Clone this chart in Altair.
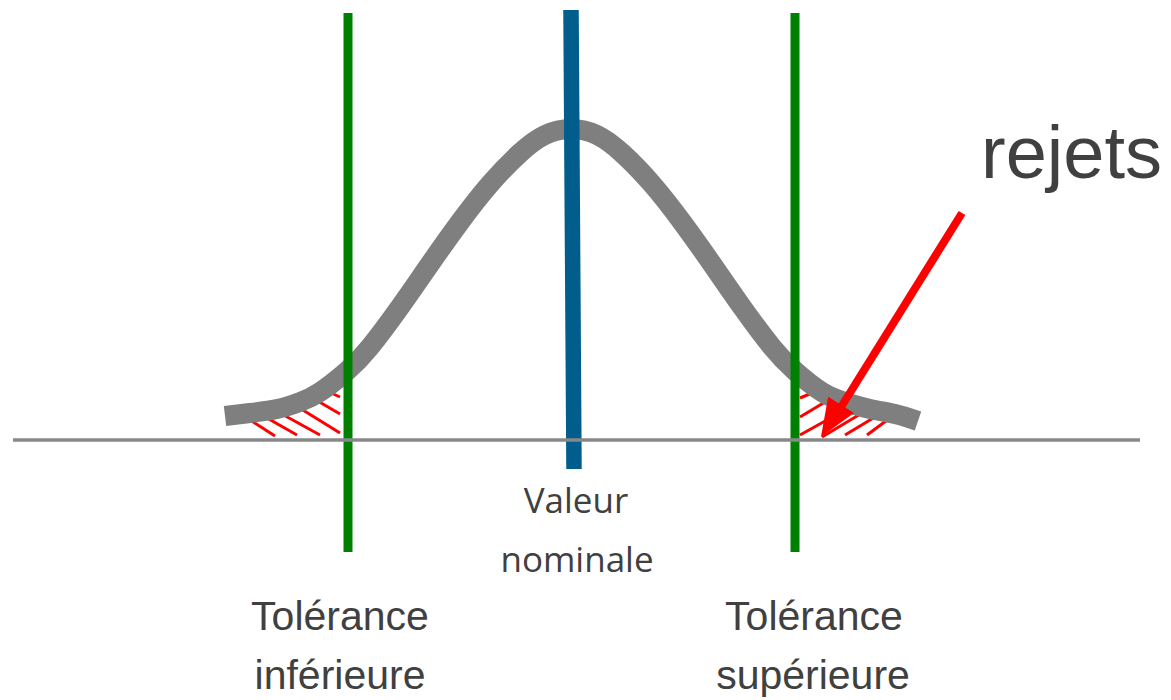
import altair as alt
import pandas as pd

W, H = 1171, 700

# Bell curve (picture units, y grows downward)
curve_x = [225, 250, 277, 300, 320, 347, 370, 400, 430, 460, 490, 520, 545, 571,
           597, 622, 652, 682, 712, 742, 772, 795, 822, 845, 870, 895, 918]
curve_y = [416, 413, 409, 402, 392, 371, 347, 307, 264, 222, 184, 153, 135, 129,
           135, 153, 184, 222, 264, 307, 347, 371, 392, 402, 409, 414, 421]

# Baseline
base_x = [13]
base_x2 = [1140]
base_y = [440]

# Tolerance limits (green)
tol_x = [348, 795]
tol_top = [13, 13]
tol_bottom = [552, 552]

# Nominal value (blue, slightly slanted)
nom_x = [571]
nom_x2 = [574]
nom_top = [10]
nom_bottom = [469]

# Red hatch segments (rejects)
hatch_x = [250, 267, 280, 298, 316, 329, 800, 800, 800, 822, 845, 867]
hatch_y = [420, 418, 413, 407, 400, 392, 398, 417, 435, 437, 435, 435]
hatch_x2 = [275, 297, 320, 340, 340, 340, 812, 825, 827, 862, 875, 890]
hatch_y2 = [436, 435, 435, 433, 414, 397, 393, 402, 420, 413, 417, 418]

# Arrow
arrow_x = [962]
arrow_y = [213]
arrow_x2 = [838]
arrow_y2 = [412]
head_x = [831]
head_y = [421]
head_angle = [212]

# Labels
label_text = ["Valeur", "nominale", "Tolérance", "inférieure", "Tolérance", "supérieure"]
label_x = [576, 577, 340, 340, 814, 813]
label_y = [513, 572, 630, 689, 630, 689]

rej_text = ["rejets"]
rej_x = [981]
rej_y = [178]

xs = alt.Scale(domain=[0, W], nice=False, zero=False)
ys = alt.Scale(domain=[0, H], nice=False, zero=False, reverse=True)


def X(f):
    return alt.X(f, type="quantitative", scale=xs, axis=None)


def Y(f):
    return alt.Y(f, type="quantitative", scale=ys, axis=None)


curve_df = pd.DataFrame({"x": curve_x, "y": curve_y})
base_df = pd.DataFrame({"x": base_x, "x2": base_x2, "y": base_y})
tol_df = pd.DataFrame({"x": tol_x, "y": tol_top, "y2": tol_bottom})
nom_df = pd.DataFrame({"x": nom_x, "x2": nom_x2, "y": nom_top, "y2": nom_bottom})
hatch_df = pd.DataFrame({"x": hatch_x, "y": hatch_y, "x2": hatch_x2, "y2": hatch_y2})
arrow_df = pd.DataFrame({"x": arrow_x, "y": arrow_y, "x2": arrow_x2, "y2": arrow_y2})
head_df = pd.DataFrame({"x": head_x, "y": head_y, "a": head_angle})
lab_df = pd.DataFrame({"t": label_text, "x": label_x, "y": label_y})
rej_df = pd.DataFrame({"t": rej_text, "x": rej_x, "y": rej_y})

hatch = alt.Chart(hatch_df).mark_rule(color="#FF0000", strokeWidth=3, strokeCap="butt").encode(
    x=X("x"), y=Y("y"), x2="x2", y2="y2")

curve = alt.Chart(curve_df).mark_line(
    color="#7F7F7F", strokeWidth=20, interpolate="natural", strokeCap="butt"
).encode(x=X("x"), y=Y("y"))

tol = alt.Chart(tol_df).mark_rule(color="#008000", strokeWidth=9, strokeCap="butt").encode(
    x=X("x"), y=Y("y"), y2="y2")

nom = alt.Chart(nom_df).mark_rule(color="#005D8C", strokeWidth=15.5, strokeCap="butt").encode(
    x=X("x"), x2="x2", y=Y("y"), y2="y2")

base = alt.Chart(base_df).mark_rule(color="#888888", strokeWidth=3.5, strokeCap="butt").encode(
    x=X("x"), x2="x2", y=Y("y"))

arrow = alt.Chart(arrow_df).mark_rule(color="#FF0000", strokeWidth=8, strokeCap="butt").encode(
    x=X("x"), y=Y("y"), x2="x2", y2="y2")

head = alt.Chart(head_df).mark_point(
    shape="M0,-1L-0.8,1L0.8,1Z", filled=True, color="#FF0000", opacity=1, size=1444
).encode(x=X("x"), y=Y("y"), angle=alt.Angle("a:Q", scale=None))

labels_open = alt.Chart(lab_df.iloc[:2]).mark_text(
    font="Open Sans", fontSize=35, color="#404040", align="center", baseline="alphabetic"
).encode(x=X("x"), y=Y("y"), text="t:N")

labels_arial = alt.Chart(lab_df.iloc[2:]).mark_text(
    font="Liberation Sans", fontSize=41, color="#404040", align="center", baseline="alphabetic"
).encode(x=X("x"), y=Y("y"), text="t:N")

rej = alt.Chart(rej_df).mark_text(
    font="Liberation Sans", fontSize=74, color="#404040", align="left", baseline="alphabetic"
).encode(x=X("x"), y=Y("y"), text="t:N")

chart = alt.layer(
    hatch, curve, tol, nom, base, arrow, head, labels_open, labels_arial, rej
).properties(
    width=W, height=H, padding=0, autosize=alt.AutoSizeParams(type="none"),
    background="white"
).configure_view(stroke=None)

chart.save("out.html", embed_options={"renderer": "svg", "actions": False})
